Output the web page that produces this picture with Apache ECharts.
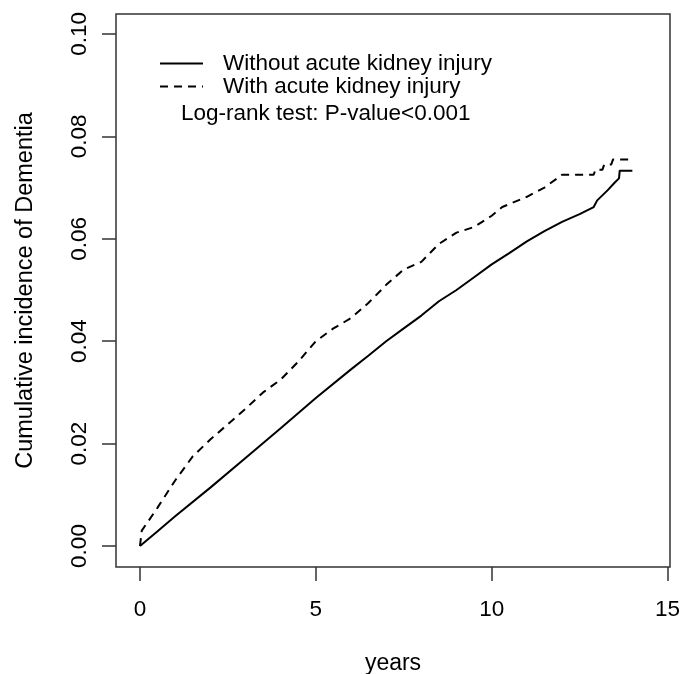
<!DOCTYPE html>
<html>
<head>
<meta charset="utf-8">
<script src="https://cdn.jsdelivr.net/npm/echarts@6/dist/echarts.min.js"></script>
<style>
html,body{margin:0;padding:0;background:#fff;}
#chart{width:682px;height:674px;}
</style>
</head>
<body>
<div id="chart"></div>
<script>
// Series names
var seriesNames = ['Without acute kidney injury', 'With acute kidney injury'];
var annotation = 'Log-rank test: P-value<0.001';

// Without AKI (solid) — vertices
var withoutYears = [0, 0.5, 1, 2, 3, 4, 5, 6, 6.5, 7, 7.5, 8, 8.5, 9, 9.5, 10, 10.5, 11, 11.5, 12, 12.5, 12.9, 13.0, 13.3, 13.5, 13.62, 13.64, 14.0];
var withoutInc   = [0, 0.0029, 0.0058, 0.0114, 0.0172, 0.0230, 0.0289, 0.0345, 0.0372, 0.0400, 0.0425, 0.0450, 0.0478, 0.0500, 0.0525, 0.0550, 0.0572, 0.0595, 0.0615, 0.0633, 0.0648, 0.0662, 0.0675, 0.0695, 0.0710, 0.0718, 0.0733, 0.0733];

// With AKI (dashed)
var withYears = [0, 0.05, 0.2, 0.5, 1, 1.5, 2, 2.5, 3, 3.5, 4, 4.5, 5, 5.5, 6, 6.5, 7, 7.5, 8, 8.5, 9, 9.5, 10, 10.3, 11, 11.5, 11.9, 12.0, 12.9, 12.95, 13.15, 13.2, 13.4, 13.45, 14.0];
var withInc   = [0, 0.003, 0.0045, 0.0075, 0.0128, 0.0175, 0.0208, 0.0238, 0.0268, 0.0300, 0.0325, 0.0360, 0.0400, 0.0425, 0.0445, 0.0475, 0.0510, 0.0540, 0.0555, 0.0590, 0.0612, 0.0623, 0.0645, 0.0662, 0.0682, 0.0700, 0.0720, 0.0725, 0.0725, 0.0735, 0.0735, 0.0745, 0.0745, 0.0755, 0.0755];

// Tick labels
var xTicks = [0, 5, 10, 15];
var yTicks = [0, 0.02, 0.04, 0.06, 0.08, 0.10];

function pairs(xs, ys) { return xs.map(function (x, i) { return [x, ys[i]]; }); }

var FONT = '"Liberation Sans", Arial, sans-serif';
var chart = echarts.init(document.getElementById('chart'), null, {renderer: 'canvas'});
chart.setOption({
  backgroundColor: '#ffffff',
  animation: false,
  grid: {left: 116, right: 12, top: 14, bottom: 107, show: true, borderColor: '#333', borderWidth: 1.5,
         backgroundColor: 'transparent', containLabel: false, outerBoundsMode: 'none'},
  title: {
    text: annotation, left: 181, top: 102, padding: 0,
    textStyle: {fontFamily: FONT, fontSize: 22.5, fontWeight: 'normal', color: '#000'}
  },
  legend: {
    orient: 'vertical', left: 159, top: 52, padding: 0,
    itemWidth: 43, itemHeight: 14, itemGap: 0,
    data: seriesNames,
    itemStyle: {opacity: 0, borderWidth: 0},
    textStyle: {fontFamily: FONT, fontSize: 22.5, lineHeight: 23, color: '#000', padding: [0, 0, 0, 15]}
  },
  xAxis: {
    type: 'value', min: -0.682, max: 15.07,
    name: 'years', nameLocation: 'middle', nameGap: 85, nameMoveOverlap: false,
    nameTextStyle: {fontFamily: FONT, fontSize: 23, color: '#000'},
    axisLine: {show: false, onZero: false},
    splitLine: {show: false},
    axisTick: {show: true, length: 14, inside: false, customValues: xTicks, lineStyle: {color: '#333', width: 1.5}},
    axisLabel: {customValues: xTicks, margin: 31, fontFamily: FONT, fontSize: 22.5, color: '#000'}
  },
  yAxis: {
    type: 'value', min: -0.0041, max: 0.1039,
    name: 'Cumulative incidence of Dementia', nameLocation: 'middle', nameGap: 78, nameRotate: 90, nameMoveOverlap: false,
    nameTextStyle: {fontFamily: FONT, fontSize: 23.5, color: '#000'},
    axisLine: {show: false, onZero: false},
    splitLine: {show: false},
    axisTick: {show: true, length: 14, inside: false, customValues: yTicks, lineStyle: {color: '#333', width: 1.5}},
    axisLabel: {customValues: yTicks, rotate: 90, margin: 25, fontFamily: FONT, fontSize: 22.5, color: '#000',
      formatter: function (v) { return v.toFixed(2); }}
  },
  series: [
    {name: seriesNames[0], type: 'line', symbol: 'none', data: pairs(withoutYears, withoutInc),
     lineStyle: {color: '#000', width: 2, type: 'solid'}, itemStyle: {color: '#000'}},
    {name: seriesNames[1], type: 'line', symbol: 'none', data: pairs(withYears, withInc),
     lineStyle: {color: '#000', width: 2, type: [8, 6]}, itemStyle: {color: '#000'}}
  ]
});
</script>
</body>
</html>
